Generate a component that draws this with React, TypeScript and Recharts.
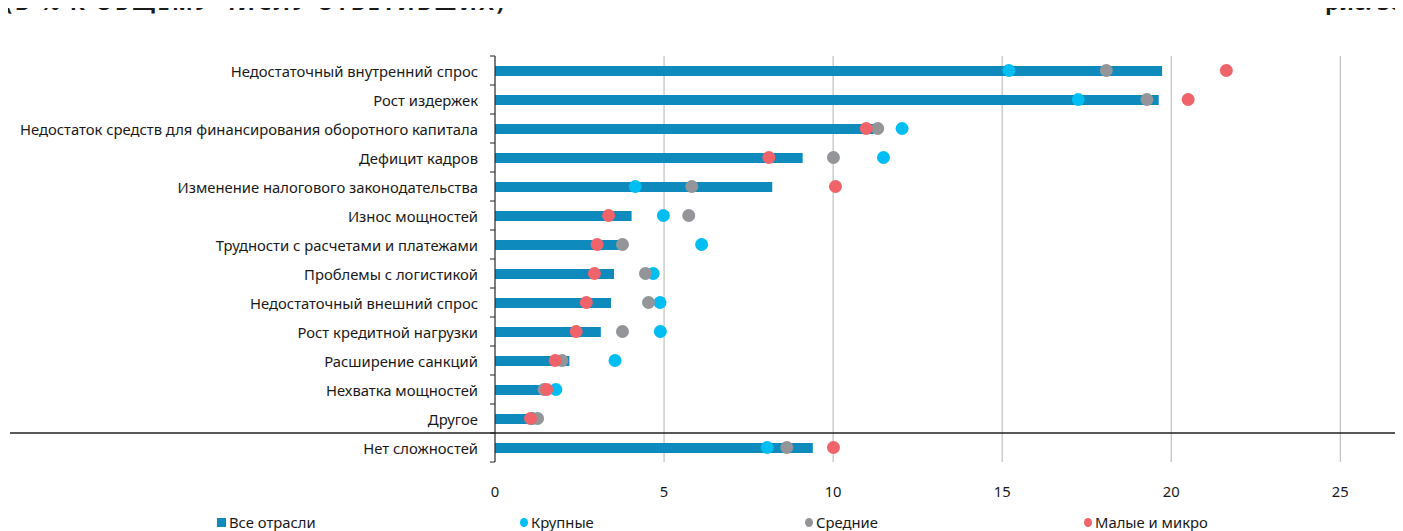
import React from "react";
import {
  ComposedChart,
  Bar,
  Line,
  XAxis,
  YAxis,
  CartesianGrid,
  ReferenceLine,
} from "recharts";

const categories = [
  "Недостаточный внутренний спрос",
  "Рост издержек",
  "Недостаток средств для финансирования оборотного капитала",
  "Дефицит кадров",
  "Изменение налогового законодательства",
  "Износ мощностей ",
  "Трудности с расчетами и платежами",
  "Проблемы с логистикой",
  "Недостаточный внешний спрос",
  "Рост кредитной нагрузки",
  "Расширение санкций",
  "Нехватка мощностей",
  "Другое",
  "Нет сложностей",
];

const allIndustries = [19.73, 19.63, 11.2, 9.1, 8.2, 4.04, 3.72, 3.52, 3.43, 3.13, 2.2, 1.42, 1.05, 9.4];
const large = [15.2, 17.25, 12.04, 11.49, 4.15, 4.98, 6.11, 4.68, 4.88, 4.89, 3.55, 1.8, 1.1, 8.05];
const medium = [18.08, 19.28, 11.32, 10.01, 5.82, 5.73, 3.77, 4.45, 4.54, 3.77, 1.98, 1.45, 1.26, 8.63];
const smallMicro = [21.63, 20.5, 10.98, 8.1, 10.07, 3.36, 3.02, 2.94, 2.7, 2.4, 1.78, 1.53, 1.05, 10.01];

const xTicks = [0, 5, 10, 15, 20, 25];
const xDomain: [number, number] = [0, 26.5];

const seriesNames = ["Все отрасли", "Крупные", "Средние", "Малые и микро"];
const title = "(В % К ОБЩЕМУ ЧИСЛУ ОТВЕТИВШИХ)";
const figLabel = "рис. 30";

const COLORS = {
  bar: "#0E8ABD",
  large: "#00BDF2",
  medium: "#939598",
  small: "#F0636B",
};

const data = categories.map((name, i) => ({
  name,
  all: allIndustries[i],
  large: large[i],
  medium: medium[i],
  small: smallMicro[i],
}));

const FONT = "'Noto Sans', sans-serif";
const FS = 14.8;

const YTick = (props: any) => {
  const { x, y, payload, index, visibleTicksCount } = props;
  const half = payload && payload.offset ? payload.offset : 14.5;
  const ax = x;
  const isLast = index === (visibleTicksCount ?? categories.length) - 1;
  return (
    <g>
      <line x1={ax - 5} x2={ax} y1={y - half} y2={y - half} stroke="#222" strokeWidth={1} />
      {isLast && (
        <line x1={ax - 5} x2={ax} y1={y + half} y2={y + half} stroke="#222" strokeWidth={1} />
      )}
      <text
        x={ax - 17}
        y={y}
        textAnchor="end"
        dominantBaseline="central"
        fontSize={FS}
        fontFamily={FONT}
        fill="#1a1a1a"
      >
        {payload.value}
      </text>
    </g>
  );
};

const XTick = (props: any) => {
  const { x, y, payload } = props;
  return (
    <text
      x={x}
      y={y + 21}
      textAnchor="middle"
      dominantBaseline="central"
      fontSize={FS}
      fontFamily={FONT}
      fill="#1a1a1a"
    >
      {payload.value}
    </text>
  );
};

const SepLine = (props: any) => {
  const { y1 } = props;
  return <line x1={2} x2={1395} y1={y1} y2={y1} stroke="#222" strokeWidth={1.5} />;
};

const gridX = (props: any) => {
  const off = props && props.offset;
  if (!off) return [];
  return xTicks.map(
    (t) => off.left + ((t - xDomain[0]) / (xDomain[1] - xDomain[0])) * off.width
  );
};

const legendItems = [
  { name: seriesNames[0], color: COLORS.bar, shape: "square", left: 209 },
  { name: seriesNames[1], color: COLORS.large, shape: "circle", left: 512 },
  { name: seriesNames[2], color: COLORS.medium, shape: "circle", left: 797 },
  { name: seriesNames[3], color: COLORS.small, shape: "circle", left: 1076 },
];

export default function App() {
  return (
    <div style={{ position: "relative", width: 1395, height: 523, fontFamily: FONT }}>
      <div
        style={{
          position: "absolute",
          top: -18,
          left: -3,
          fontSize: 22,
          lineHeight: "22px",
          fontWeight: 700,
          color: "#1a1a1a",
          whiteSpace: "nowrap",
          letterSpacing: 2.3,
        }}
      >
        {title}
      </div>
      <div
        style={{
          position: "absolute",
          top: -7,
          left: 500,
          width: 814,
          height: 2,
          zIndex: 2,
          background:
            "repeating-linear-gradient(to right, #F0A830 0px, #F0A830 2px, transparent 2px, transparent 3px)",
        }}
      />
      <div
        style={{
          position: "absolute",
          top: -18,
          left: 1317,
          fontSize: 22,
          lineHeight: "22px",
          fontWeight: 700,
          color: "#1a1a1a",
          whiteSpace: "nowrap",
        }}
      >
        {figLabel}
      </div>
      <ComposedChart
        width={1395}
        height={523}
        data={data}
        layout="vertical"
        margin={{ top: 48, right: 12, bottom: 39, left: 0 }}
      >
        <CartesianGrid
          horizontal={false}
          vertical={true}
          stroke="#B3B3B3"
          strokeWidth={1}
          verticalCoordinatesGenerator={gridX}
        />
        <XAxis
          type="number"
          domain={xDomain}
          ticks={xTicks}
          axisLine={false}
          tickLine={false}
          height={30}
          tick={<XTick />}
          interval={0}
        />
        <YAxis
          type="category"
          dataKey="name"
          width={487}
          axisLine={{ stroke: "#222", strokeWidth: 1 }}
          tickLine={false}
          tickSize={0}
          tickMargin={0}
          tick={<YTick />}
          interval={0}
        />
        <Bar dataKey="all" fill={COLORS.bar} barSize={10} isAnimationActive={false} />
        <Line
          dataKey="large"
          stroke="none"
          strokeWidth={0}
          dot={{ r: 6.5, fill: COLORS.large, stroke: "none", strokeWidth: 0 }}
          activeDot={false}
          isAnimationActive={false}
        />
        <Line
          dataKey="medium"
          stroke="none"
          strokeWidth={0}
          dot={{ r: 6.5, fill: COLORS.medium, stroke: "none", strokeWidth: 0 }}
          activeDot={false}
          isAnimationActive={false}
        />
        <Line
          dataKey="small"
          stroke="none"
          strokeWidth={0}
          dot={{ r: 6.5, fill: COLORS.small, stroke: "none", strokeWidth: 0 }}
          activeDot={false}
          isAnimationActive={false}
        />
        <ReferenceLine
          y={categories[categories.length - 1]}
          position="start"
          shape={<SepLine />}
          ifOverflow="visible"
        />
      </ComposedChart>
      {legendItems.map((it) => (
        <div
          key={it.name}
          style={{
            position: "absolute",
            left: it.left,
            top: 505,
            height: 18,
            display: "flex",
            alignItems: "center",
            fontSize: FS,
            color: "#1a1a1a",
            whiteSpace: "nowrap",
          }}
        >
          <span
            style={{
              display: "inline-block",
              width: it.shape === "square" ? 9 : 8,
              height: 9,
              borderRadius: it.shape === "square" ? 0 : "50%",
              background: it.color,
              marginRight: 3,
            }}
          />
          {it.name}
        </div>
      ))}
    </div>
  );
}
